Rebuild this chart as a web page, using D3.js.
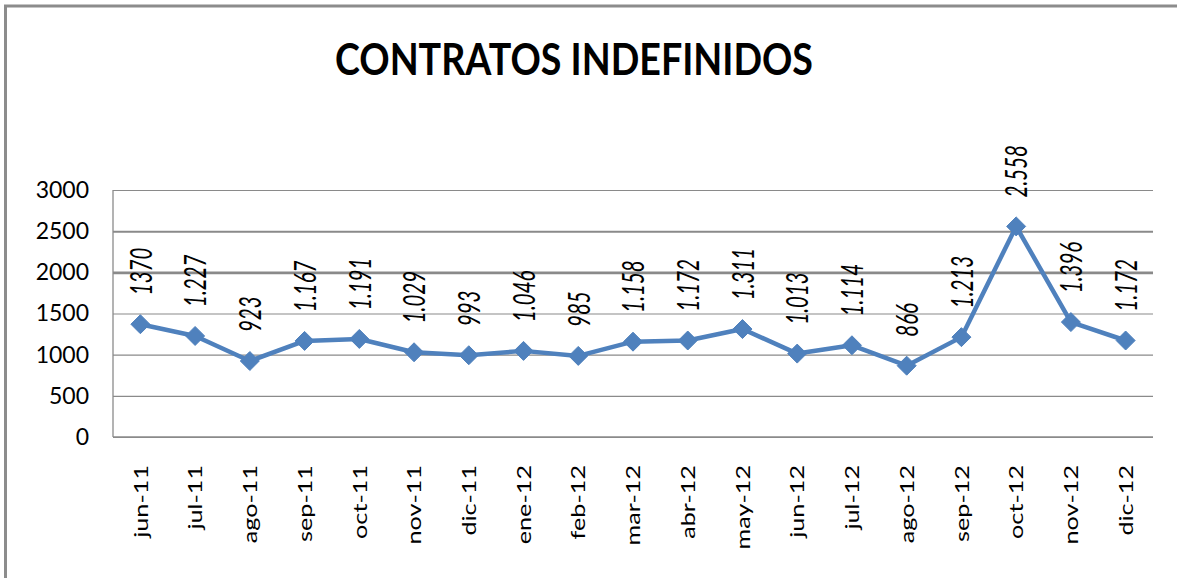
<!DOCTYPE html>
<html>
<head>
<meta charset="utf-8">
<script src="https://cdn.jsdelivr.net/npm/d3@7/dist/d3.min.js"></script>
<style>
  html, body { margin: 0; padding: 0; background: #fff; }
  svg { display: block; }
</style>
</head>
<body>
<svg id="chart" width="1177" height="578"></svg>
<script>
const title = "CONTRATOS INDEFINIDOS";
const categories = ["jun-11","jul-11","ago-11","sep-11","oct-11","nov-11","dic-11","ene-12","feb-12","mar-12","abr-12","may-12","jun-12","jul-12","ago-12","sep-12","oct-12","nov-12","dic-12"];
const values = [1370,1227,923,1167,1191,1029,993,1046,985,1158,1172,1311,1013,1114,866,1213,2558,1396,1172];
const valueLabels = ["1370","1.227","923","1.167","1.191","1.029","993","1.046","985","1.158","1.172","1.311","1.013","1.114","866","1.213","2.558","1.396","1.172"];
const yTicks = [0,500,1000,1500,2000,2500,3000];

const svg = d3.select("#chart");
const W = 1177, H = 578;
const plot = {left: 113, right: 1153, top: 190, bottom: 437};
const font = "Lato, 'Open Sans', sans-serif";
const blue = "#4F81BD";
const gridColor = "#8a8a8a";

// outer frame (only left and top edges visible)
svg.append("path")
  .attr("d", `M5.5,${H+5} L5.5,6 L${W+5},6`)
  .attr("fill", "none")
  .attr("stroke", "#8c8c8c")
  .attr("stroke-width", 3);

// title
svg.append("text")
  .attr("x", 574).attr("y", 75)
  .attr("text-anchor", "middle")
  .attr("font-family", font)
  .attr("font-weight", "bold")
  .attr("font-size", 44)
  .attr("fill", "#000")
  .attr("textLength", 478)
  .attr("lengthAdjust", "spacingAndGlyphs")
  .text(title);

const x = d3.scaleBand().domain(categories).range([plot.left, plot.right]).padding(0);
const y = d3.scaleLinear().domain([0, 3000]).range([plot.bottom, plot.top]);

// gridlines + y labels
const yAxis = svg.append("g")
  .attr("transform", `translate(${plot.left},0)`)
  .call(d3.axisLeft(y).tickValues(yTicks).tickSize(-(plot.right - plot.left)).tickPadding(24).tickFormat(d3.format("d")));
yAxis.select(".domain").remove();
yAxis.selectAll(".tick line")
  .attr("stroke", gridColor)
  .attr("stroke-width", d => d === 2000 ? 2.6 : d === 2500 ? 2 : 1.2);
yAxis.selectAll(".tick text")
  .attr("font-family", font)
  .attr("font-size", 23)
  .attr("fill", "#000");

// axis lines
svg.append("line")
  .attr("x1", plot.left).attr("x2", plot.left)
  .attr("y1", plot.top).attr("y2", plot.bottom)
  .attr("stroke", gridColor).attr("stroke-width", 1.3);
svg.append("line")
  .attr("x1", plot.left).attr("x2", plot.right)
  .attr("y1", plot.bottom).attr("y2", plot.bottom)
  .attr("stroke", gridColor).attr("stroke-width", 1.3);

// x labels
const xc = d => x(d) + x.bandwidth() / 2;
svg.append("g").selectAll("text")
  .data(categories)
  .join("text")
  .attr("transform", d => `translate(${xc(d)},465) rotate(-90) scale(1.2,0.95)`)
  .attr("text-anchor", "end")
  .attr("dy", "0.36em")
  .attr("font-family", font)
  .attr("font-size", 21)
  .attr("fill", "#000")
  .text(d => d);

// line
const pts = categories.map((c, i) => ({c, v: values[i], label: valueLabels[i]}));
svg.append("path")
  .datum(pts)
  .attr("d", d3.line().x(d => xc(d.c)).y(d => y(d.v)))
  .attr("fill", "none")
  .attr("stroke", blue)
  .attr("stroke-width", 4.5)
  .attr("stroke-linejoin", "round");

// diamond markers
const r = 9.5;
svg.append("g").selectAll("path")
  .data(pts)
  .join("path")
  .attr("d", d => {
    const cx = xc(d.c), cy = y(d.v);
    return `M${cx},${cy - r}L${cx + r},${cy}L${cx},${cy + r}L${cx - r},${cy}Z`;
  })
  .attr("fill", blue)
  .attr("stroke", blue)
  .attr("stroke-width", 1);

// data labels
svg.append("g").selectAll("text")
  .data(pts)
  .join("text")
  .attr("transform", d => `translate(${xc(d.c)},${y(d.v) - 29}) rotate(-90) scale(0.82,1.25)`)
  .attr("text-anchor", "start")
  .attr("dy", "0.36em")
  .attr("font-family", font)
  .attr("font-style", "italic")
  .attr("font-size", 25)
  .attr("fill", "#000")
  .text(d => d.label);
</script>
</body>
</html>
